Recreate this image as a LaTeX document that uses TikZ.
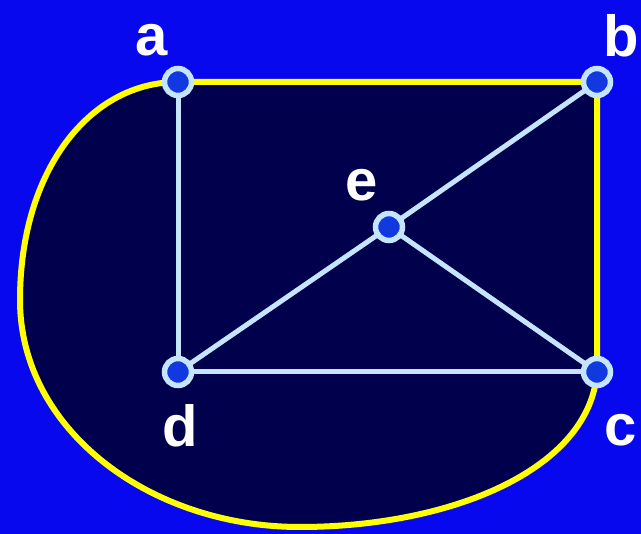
\documentclass[tikz,border=0pt]{standalone}
\usepackage{fontspec}
\setmainfont{Liberation Sans}
\definecolor{bgblue}{HTML}{0808EE}
\definecolor{navy}{HTML}{00004C}
\definecolor{edgeblue}{HTML}{C4E4FF}
\definecolor{nodeblue}{HTML}{1238E0}
\definecolor{yel}{HTML}{FFFF00}
\begin{document}
\begin{tikzpicture}[x=1pt,y=-1pt,
  vert/.style={circle,draw=edgeblue,line width=5.5pt,fill=nodeblue,minimum size=27pt,inner sep=0pt},
  edge/.style={draw=edgeblue,line width=5pt},
  yedge/.style={draw=yel,line width=6pt},
  lab/.style={text=white,font=\fontsize{58}{58}\selectfont\bfseries}]
\useasboundingbox (0,0) rectangle (641,534);
\fill[bgblue] (0,0) rectangle (641,534);
\coordinate (A) at (178,82);
\coordinate (B) at (597,82);
\coordinate (C) at (597,372);
\coordinate (D) at (178,372);
\coordinate (E) at (389,227);
\fill[navy] (A) -- (B) -- (C) .. controls (590,470) and (450,527) .. (300,527)
  .. controls (150,527) and (20,430) .. (20,300)
  .. controls (20,170) and (90,82) .. (A) -- cycle;
\draw[yedge] (A) -- (B) -- (C) .. controls (590,470) and (450,527) .. (300,527)
  .. controls (150,527) and (20,430) .. (20,300)
  .. controls (20,170) and (90,82) .. (A);
\draw[edge] (A) -- (D);
\draw[edge] (D) -- (C);
\draw[edge] (D) -- (E);
\draw[edge] (E) -- (B);
\draw[edge] (E) -- (C);
\node[vert] (a) at (A) {};
\node[vert] (b) at (B) {};
\node[vert] (c) at (C) {};
\node[vert] (d) at (D) {};
\node[vert] (e) at (E) {};
\node[lab] (la) at (152,40) {a};
\node[lab] (lb) at (621,36) {b};
\node[lab] (lc) at (621,430) {c};
\node[lab] (ld) at (180,426) {d};
\node[lab] (le) at (362,185) {e};
\end{tikzpicture}
\end{document}
